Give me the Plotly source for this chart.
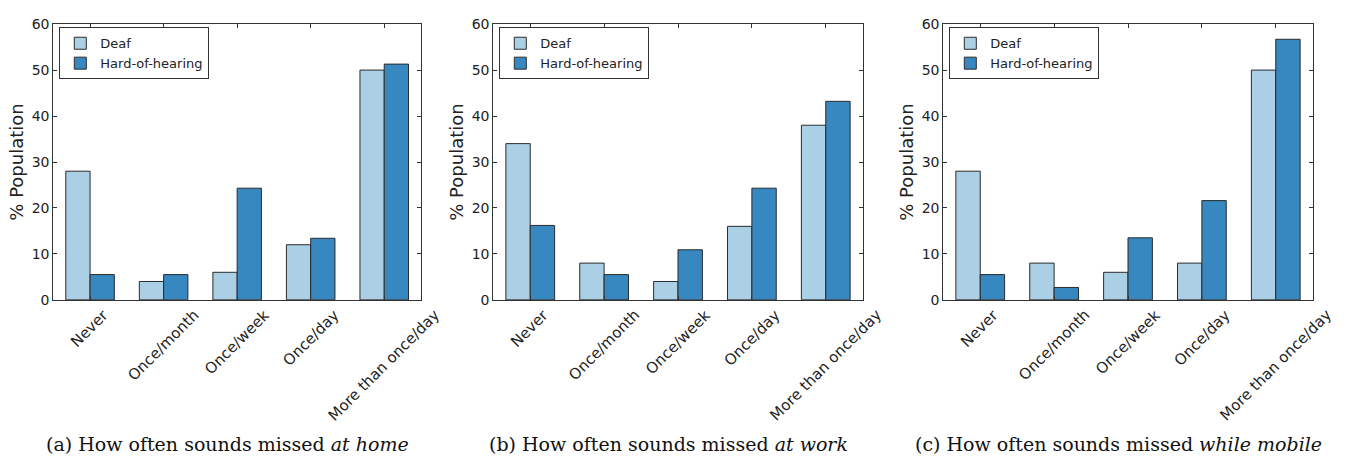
import plotly.graph_objects as go

categories = ["Never", "Once/month", "Once/week", "Once/day", "More than once/day"]
series_names = ["Deaf", "Hard-of-hearing"]

home_deaf = [28, 4, 6, 12, 50]
home_hoh = [5.5, 5.5, 24.3, 13.4, 51.3]
work_deaf = [34, 8, 4, 16, 38]
work_hoh = [16.2, 5.5, 10.9, 24.3, 43.2]
mobile_deaf = [28, 8, 6, 8, 50]
mobile_hoh = [5.5, 2.7, 13.5, 21.6, 56.7]

captions = [
    "(a) How often sounds missed <i>at home</i>",
    "(b) How often sounds missed <i>at work</i>",
    "(c) How often sounds missed <i>while mobile</i>",
]
y_ticks = [0, 10, 20, 30, 40, 50, 60]

W, H = 1348, 464
colors = ["#abcfe5", "#3787c0"]
edge = "#2b2b2b"
font_family = "DejaVu Sans"

panels = [(home_deaf, home_hoh), (work_deaf, work_hoh), (mobile_deaf, mobile_hoh)]
x_domains = [[53.3 / W, 421.0 / W], [493.3 / W, 862.7 / W], [943.3 / W, 1312.7 / W]]
y_domain = [1 - 302.3 / H, 1 - 16.7 / H]

fig = go.Figure()
annotations = []
for i, (deaf, hoh) in enumerate(panels):
    sfx = "" if i == 0 else str(i + 1)
    leg = "legend" if i == 0 else f"legend{i + 1}"
    for name, vals, col in zip(series_names, [deaf, hoh], colors):
        fig.add_trace(go.Bar(
            x=categories, y=vals, name=name, marker=dict(color=col, line=dict(color=edge, width=1)),
            xaxis="x" + sfx, yaxis="y" + sfx, legend=leg, offsetgroup=name,
        ))
    axis_common = dict(showline=True, linecolor="#333333", linewidth=1, mirror="allticks",
                       ticks="inside", ticklen=4, tickcolor="#333333", showgrid=False, zeroline=False)
    fig.update_layout(**{
        "xaxis" + sfx: dict(domain=x_domains[i], anchor="y" + sfx, range=[-0.5, 4.5],
                            showticklabels=False, **axis_common),
        "yaxis" + sfx: dict(domain=y_domain, anchor="x" + sfx, range=[0, 60], tickvals=y_ticks,
                            tickfont=dict(size=14, color="#222222", family=font_family),
                            title=dict(text="% Population", font=dict(size=18, color="#222222", family=font_family),
                                       standoff=3), **axis_common),
        leg: dict(x=x_domains[i][0] + 6 / W, y=1 - 20 / H, xanchor="left", yanchor="top",
                  bordercolor="#333333", borderwidth=1, bgcolor="white",
                  font=dict(size=13, color="#222222", family=font_family),
                  tracegroupgap=0, itemwidth=30),
    })
    for c in categories:
        annotations.append(dict(x=c, y=0, xref="x" + sfx, yref="y" + sfx, text=c, showarrow=False,
                                textangle=-45, xanchor="center", yanchor="top", yshift=-3,
                                font=dict(size=15, color="#222222", family=font_family)))
    annotations.append(dict(x=(x_domains[i][0] + x_domains[i][1]) / 2 - 10 / W, y=1 - 452 / H,
                            xref="paper", yref="paper", text=captions[i], showarrow=False,
                            xanchor="center", yanchor="middle",
                            font=dict(size=19, color="#111111", family="DejaVu Serif")))

fig.update_layout(width=W, height=H, margin=dict(l=0, r=0, t=0, b=0),
                  plot_bgcolor="white", paper_bgcolor="white",
                  barmode="group", bargap=0.34, bargroupgap=0,
                  annotations=annotations, font=dict(family=font_family))
fig.write_html("out.html")
